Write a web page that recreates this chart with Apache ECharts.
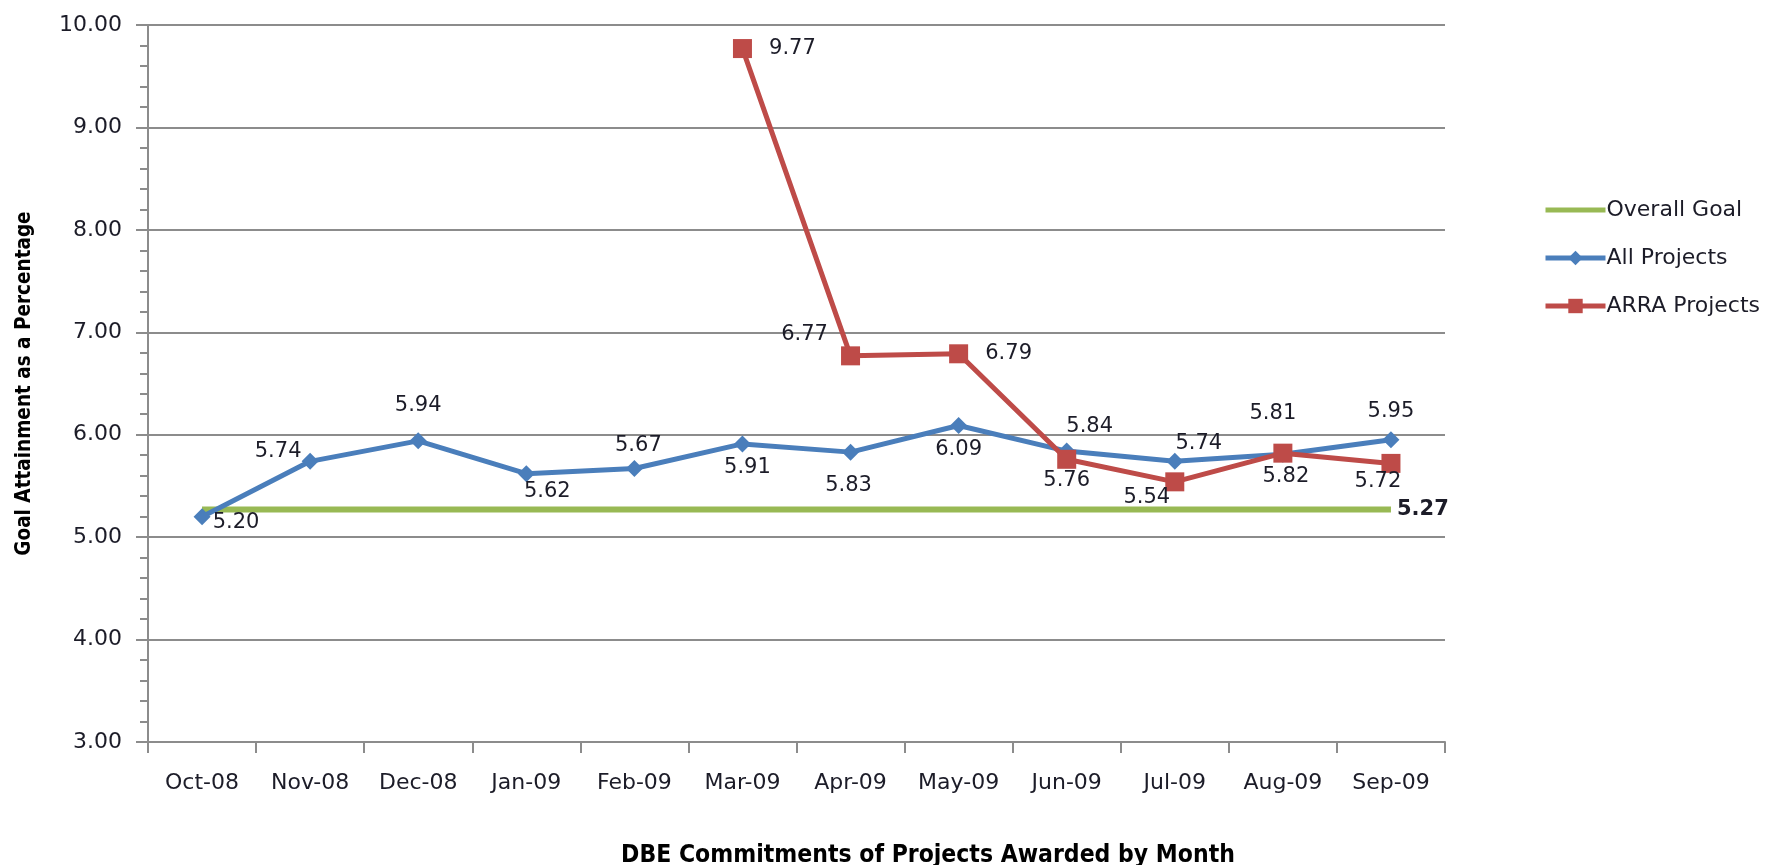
<!DOCTYPE html>
<html>
<head>
<meta charset="utf-8">
<script src="https://cdn.jsdelivr.net/npm/echarts@6/dist/echarts.min.js"></script>
<style>
html,body{margin:0;padding:0;background:#fff;}
#chart{width:1769px;height:865px;}
</style>
</head>
<body>
<div id="chart"></div>
<script>
// ---- data ----
const categories = ['Oct-08','Nov-08','Dec-08','Jan-09','Feb-09','Mar-09','Apr-09','May-09','Jun-09','Jul-09','Aug-09','Sep-09'];
const overallGoal = [5.27,5.27,5.27,5.27,5.27,5.27,5.27,5.27,5.27,5.27,5.27,5.27];
const allProjects = [5.20,5.74,5.94,5.62,5.67,5.91,5.83,6.09,5.84,5.74,5.81,5.95];
const arraProjects = [null,null,null,null,null,9.77,6.77,6.79,5.76,5.54,5.82,5.72];
const seriesNames = ['Overall Goal','All Projects','ARRA Projects'];
const yMin = 3, yMax = 10, yInterval = 1;
const xTitle = 'DBE Commitments of Projects Awarded by Month';
const yTitle = 'Goal Attainment as a Percentage';

// ---- label placement (layout only) ----
const allOffsets = [[34,6],[-32,-10],[0,-35],[21,18],[4,-23],[5,24],[-2,33],[0,24],[23,-25],[24,-18],[-10,-41],[0,-28]];
const arraOffsets = [null,null,null,null,null,[50,0],[-46,-21],[50,0],[0,21],[-28,16],[3,23],[-13,18]];

const colors = ['#98B954','#4A7EBB','#BE4B48'];
const textColor = '#1c1c28';
const font = 'DejaVu Sans';
const titleFont = 'DejaVu Sans Condensed';
const fmt = p => Number(p.value).toFixed(2);

function withLabels(values, offsets){
  return values.map((v,i) => v === null ? '-' : {value: v, label: {offset: offsets[i]}});
}

const chart = echarts.init(document.getElementById('chart'), null, {renderer:'canvas'});
chart.setOption({
  animation: false,
  backgroundColor: '#fff',
  title: {
    text: xTitle,
    left: 928, top: 843, textAlign: 'center',
    padding: 0,
    textStyle: {fontFamily: titleFont, fontWeight: 'bold', fontSize: 24.5, color: '#000'}
  },
  grid: {left: 148, right: 324, top: 25, bottom: 123, containLabel: false},
  legend: {
    orient: 'vertical',
    left: 1538, top: 194,
    itemWidth: 60, itemHeight: 18, itemGap: 26,
    textStyle: {fontFamily: font, fontSize: 22, color: textColor, padding: [0,0,0,-4]},
    lineStyle: {width: 5},
    data: [
      {name: seriesNames[0], itemStyle: {color: 'rgba(0,0,0,0)', borderWidth: 0}, lineStyle: {color: colors[0], width: 5}},
      {name: seriesNames[1], lineStyle: {color: colors[1], width: 5}},
      {name: seriesNames[2], lineStyle: {color: colors[2], width: 5}}
    ]
  },
  xAxis: {
    type: 'category',
    data: categories,
    boundaryGap: true,
    axisLine: {lineStyle: {color: '#8c8c8c', width: 2}},
    axisTick: {show: true, length: 11, lineStyle: {color: '#8c8c8c', width: 2}},
    axisLabel: {fontFamily: font, fontSize: 22, color: textColor, margin: 30, interval: 0}
  },
  yAxis: {
    type: 'value',
    min: yMin, max: yMax, interval: yInterval,
    axisLine: {show: true, lineStyle: {color: '#8c8c8c', width: 2}},
    axisTick: {show: true, length: 12, lineStyle: {color: '#8c8c8c', width: 2}},
    minorTick: {show: true, splitNumber: 5, length: 8, lineStyle: {color: '#8c8c8c', width: 2}},
    splitLine: {show: true, lineStyle: {color: '#8c8c8c', width: 2}},
    axisLabel: {fontFamily: font, fontSize: 22, color: textColor, margin: 26, formatter: v => v.toFixed(2)},
    name: yTitle,
    nameLocation: 'middle',
    nameRotate: 90,
    nameGap: 113,
    nameTextStyle: {fontFamily: titleFont, fontWeight: 'bold', fontSize: 20.5, color: '#000'}
  },
  series: [
    {
      name: seriesNames[0],
      type: 'line',
      data: overallGoal,
      symbol: 'none',
      color: colors[0],
      lineStyle: {color: colors[0], width: 6},
      endLabel: {show: true, formatter: fmt, fontFamily: font, fontWeight: 'bold', fontSize: 21, color: textColor, distance: 6},
      z: 2
    },
    {
      name: seriesNames[1],
      type: 'line',
      data: withLabels(allProjects, allOffsets),
      symbol: 'diamond',
      symbolSize: 17,
      color: colors[1],
      itemStyle: {color: colors[1]},
      lineStyle: {color: colors[1], width: 5},
      label: {show: true, position: 'inside', formatter: fmt, fontFamily: font, fontSize: 21, color: textColor},
      z: 3
    },
    {
      name: seriesNames[2],
      type: 'line',
      data: withLabels(arraProjects, arraOffsets),
      symbol: 'rect',
      symbolSize: 19,
      color: colors[2],
      itemStyle: {color: colors[2]},
      lineStyle: {color: colors[2], width: 5},
      connectNulls: false,
      label: {show: true, position: 'inside', formatter: fmt, fontFamily: font, fontSize: 21, color: textColor},
      z: 4
    }
  ]
});
</script>
</body>
</html>
